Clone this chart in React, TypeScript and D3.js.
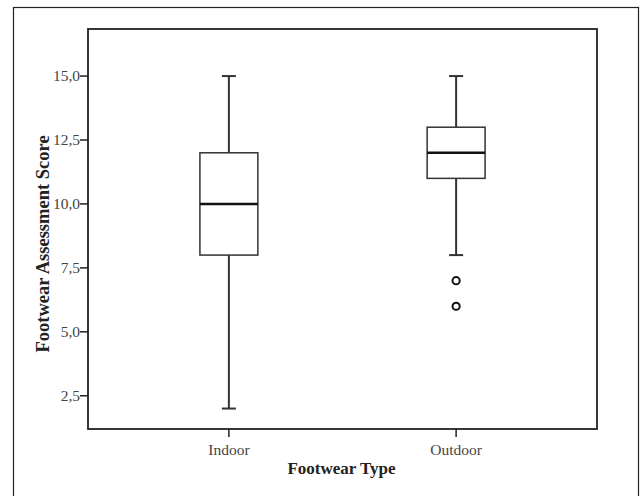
import React, { useEffect, useRef } from "react";
import * as d3 from "d3";

// footwear categories and box statistics
const categories = ["Indoor", "Outdoor"];
const lowerWhisker = [2, 8];
const q1 = [8, 11];
const medians = [10, 12];
const q3 = [12, 13];
const upperWhisker = [15, 15];
const outliers = [[], [7, 6]];
const yTicks = [2.5, 5.0, 7.5, 10.0, 12.5, 15.0];

const App = () => {
  const ref = useRef<SVGSVGElement>(null);
  const width = 641;
  const height = 496;
  const margin = { left: 88, top: 29, right: 597, bottom: 429 };

  useEffect(() => {
    const svg = d3.select(ref.current);
    svg.selectAll("*").remove();
    const font = "'Liberation Serif', 'Times New Roman', serif";

    // outer frame of the figure
    svg.append("rect")
      .attr("x", 13.5).attr("y", 7.5)
      .attr("width", 625).attr("height", 500)
      .attr("fill", "white").attr("stroke", "#222").attr("stroke-width", 1.2);

    const x = d3.scalePoint<string>()
      .domain(categories)
      .range([margin.left, margin.right])
      .padding(0.62);
    const y = d3.scaleLinear().domain([1.2, 16.84]).range([margin.bottom, margin.top]);

    const boxW = x.step() * 0.255;
    const capW = 14;

    // y ticks
    const gy = svg.append("g");
    yTicks.forEach((t) => {
      gy.append("line")
        .attr("x1", margin.left - 8).attr("x2", margin.left)
        .attr("y1", y(t)).attr("y2", y(t))
        .attr("stroke", "#222").attr("stroke-width", 1.5);
      gy.append("text")
        .attr("x", margin.left - 8).attr("y", y(t))
        .attr("dy", "0.35em")
        .attr("text-anchor", "end")
        .attr("fill", "#444")
        .style("font-family", font).style("font-size", "15.5px")
        .text(d3.format(".1f")(t).replace(".", ","));
    });

    // x ticks
    categories.forEach((c) => {
      svg.append("line")
        .attr("x1", x(c)!).attr("x2", x(c)!)
        .attr("y1", margin.bottom).attr("y2", margin.bottom + 8)
        .attr("stroke", "#222").attr("stroke-width", 1.5);
      svg.append("text")
        .attr("x", x(c)!).attr("y", 455)
        .attr("text-anchor", "middle")
        .attr("fill", "#444")
        .style("font-family", font).style("font-size", "15.5px")
        .text(c);
    });

    // boxes
    categories.forEach((c, i) => {
      const cx = x(c)!;
      const g = svg.append("g").attr("stroke", "#333").attr("fill", "none");
      g.append("line")
        .attr("x1", cx).attr("x2", cx)
        .attr("y1", y(upperWhisker[i])).attr("y2", y(q3[i]))
        .attr("stroke-width", 2);
      g.append("line")
        .attr("x1", cx).attr("x2", cx)
        .attr("y1", y(q1[i])).attr("y2", y(lowerWhisker[i]))
        .attr("stroke-width", 2);
      [upperWhisker[i], lowerWhisker[i]].forEach((v) => {
        g.append("line")
          .attr("x1", cx - capW / 2).attr("x2", cx + capW / 2)
          .attr("y1", y(v)).attr("y2", y(v))
          .attr("stroke-width", 2);
      });
      g.append("rect")
        .attr("x", cx - boxW / 2).attr("y", y(q3[i]))
        .attr("width", boxW).attr("height", y(q1[i]) - y(q3[i]))
        .attr("fill", "white").attr("stroke-width", 1.5);
      g.append("line")
        .attr("x1", cx - boxW / 2).attr("x2", cx + boxW / 2)
        .attr("y1", y(medians[i])).attr("y2", y(medians[i]))
        .attr("stroke", "#111").attr("stroke-width", 2.6);
      outliers[i].forEach((v) => {
        g.append("circle")
          .attr("cx", cx).attr("cy", y(v)).attr("r", 3.6)
          .attr("stroke", "#111").attr("stroke-width", 2);
      });
    });

    // plot frame
    svg.append("rect")
      .attr("x", margin.left).attr("y", margin.top)
      .attr("width", margin.right - margin.left)
      .attr("height", margin.bottom - margin.top)
      .attr("fill", "none").attr("stroke", "#222").attr("stroke-width", 1.8);

    // axis titles
    svg.append("text")
      .attr("x", (margin.left + margin.right) / 2 - 1).attr("y", 474)
      .attr("text-anchor", "middle")
      .attr("fill", "#222")
      .style("font-family", font).style("font-size", "17px").style("font-weight", "bold")
      .text("Footwear Type");
    svg.append("text")
      .attr("transform", `translate(49, 244) rotate(-90)`)
      .attr("text-anchor", "middle")
      .attr("fill", "#222")
      .style("font-family", font).style("font-size", "18.5px").style("font-weight", "bold")
      .text("Footwear Assessment Score");
  }, []);

  return (
    <svg
      ref={ref}
      width={width}
      height={height}
      style={{ position: "absolute", left: 0, top: 0, background: "white" }}
    ></svg>
  );
};

export default App;
